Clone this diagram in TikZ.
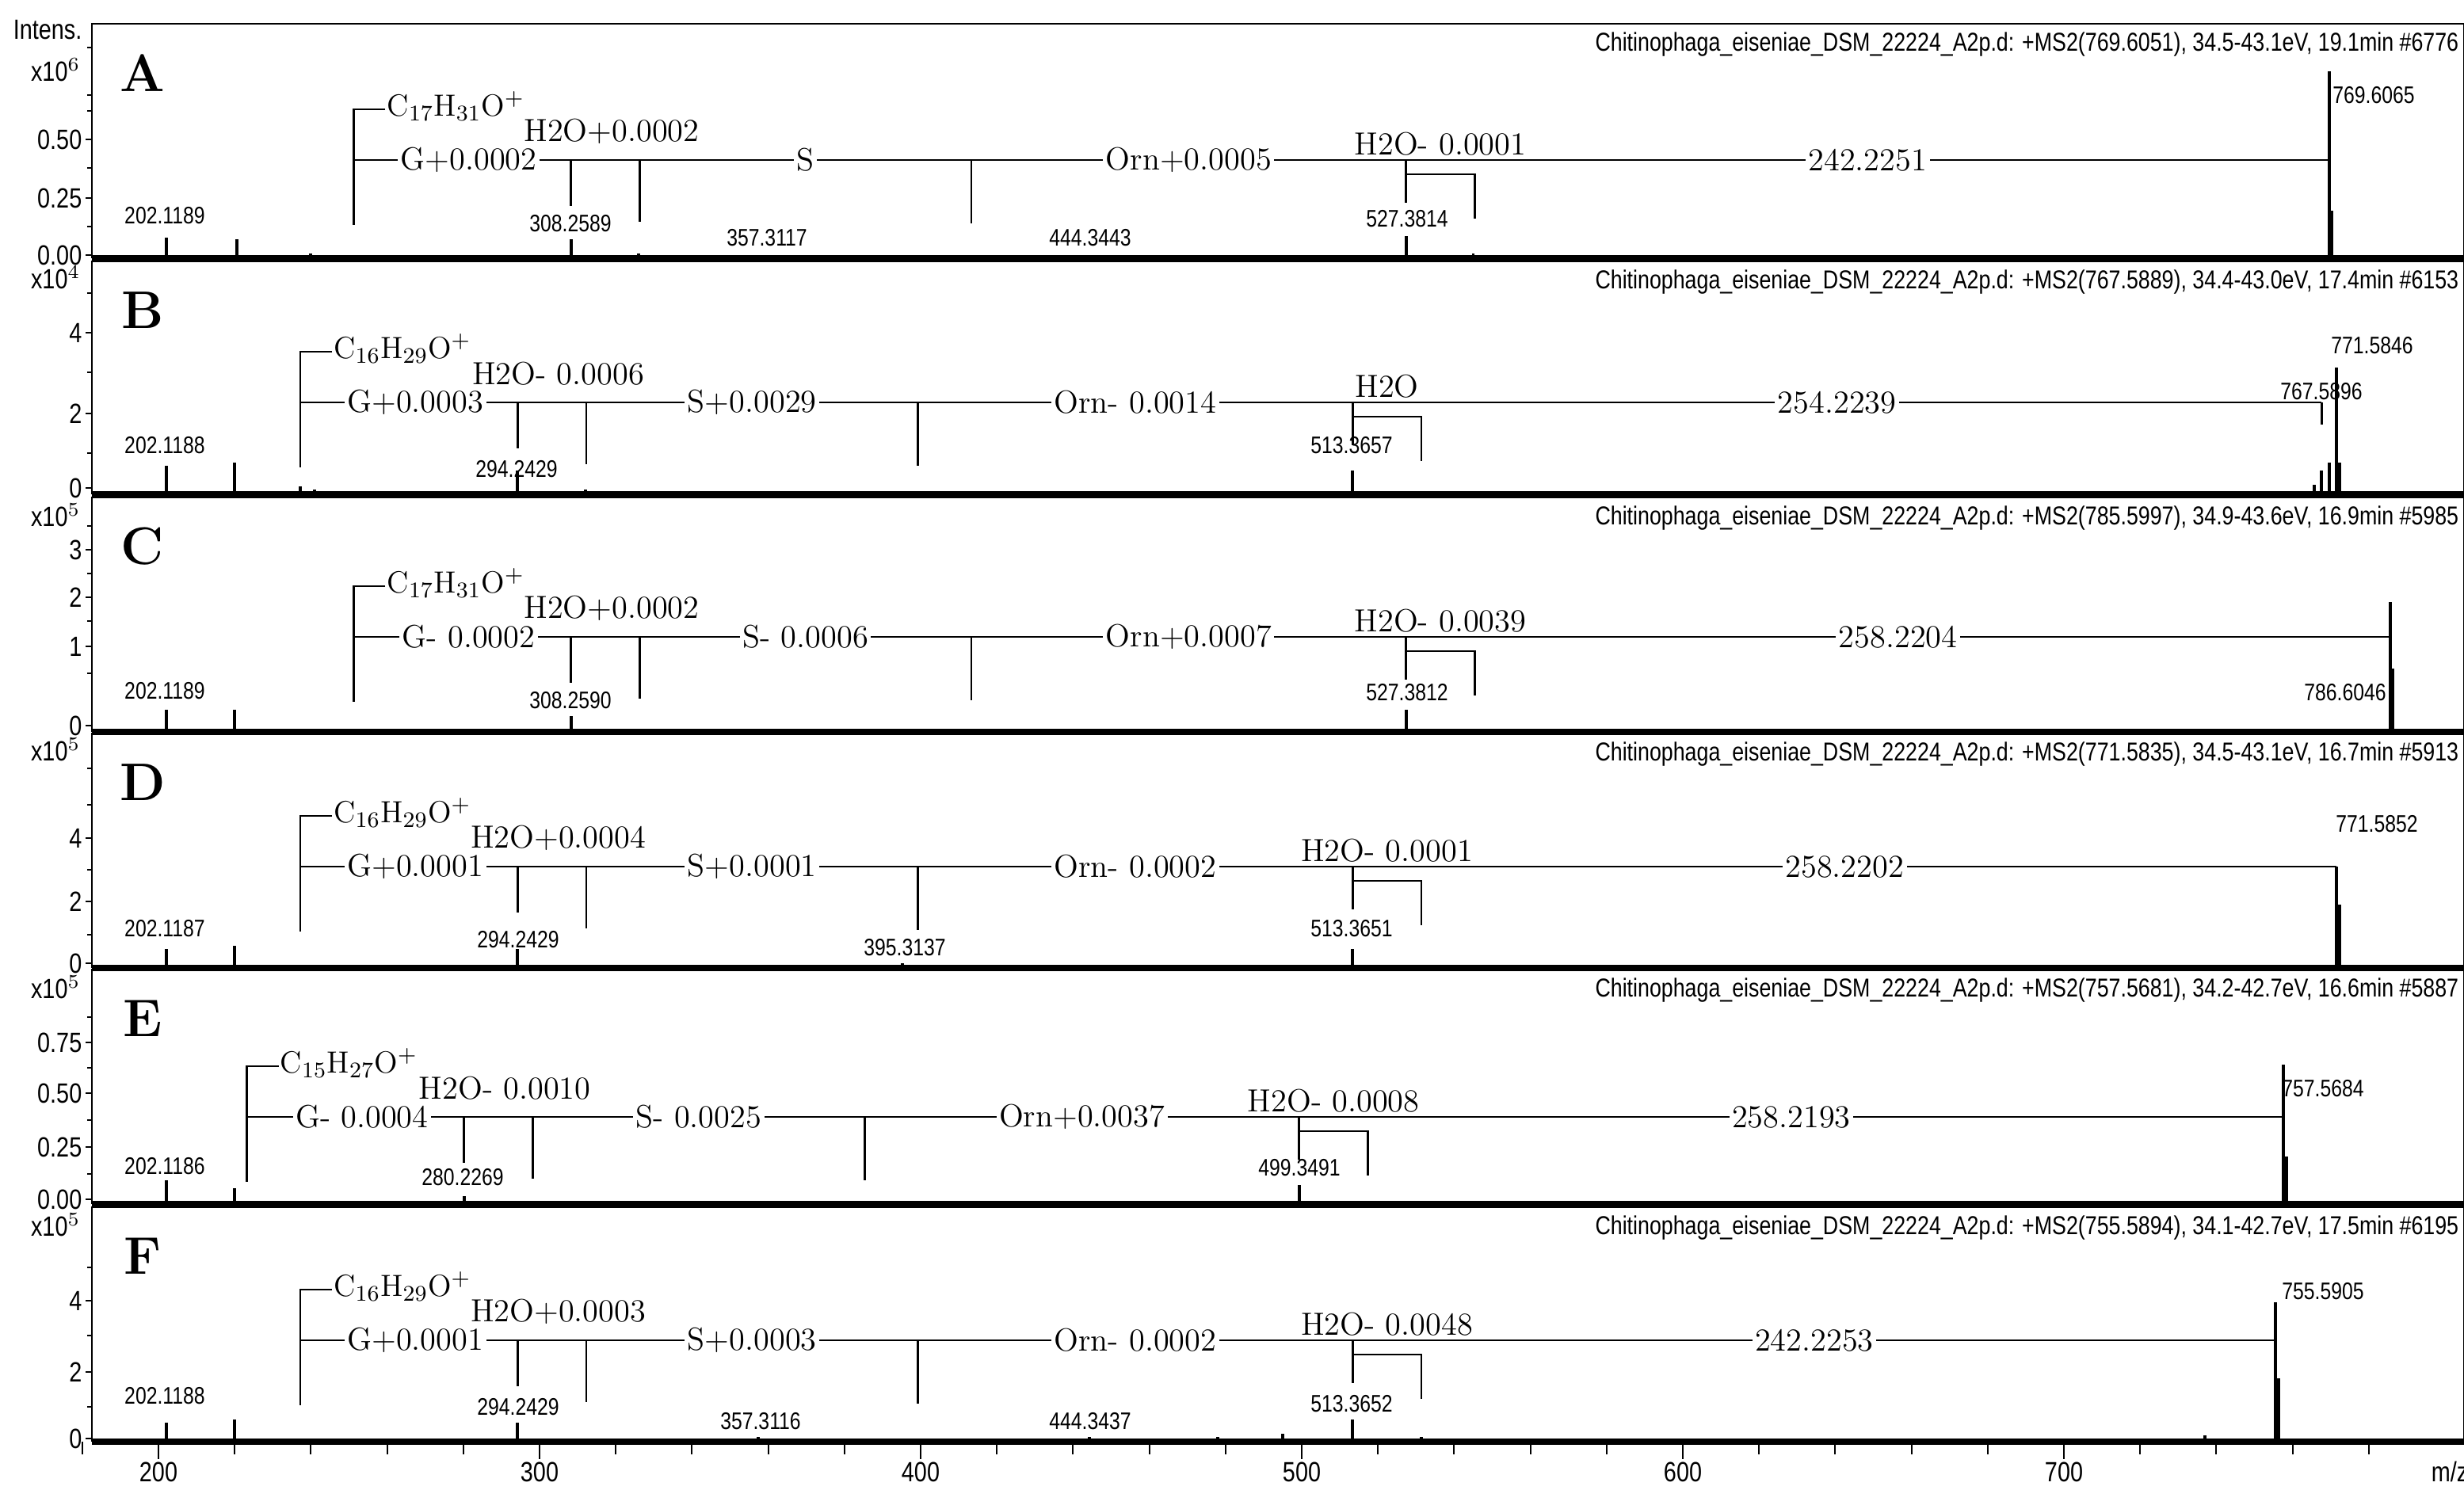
\documentclass[tikz,border=0pt]{standalone}
\usepackage{fontspec}
\newfontfamily\narrow[FakeStretch=0.82]{Liberation Sans}
\newcommand\X[1]{(100+2.405*(#1-200))}
\tikzset{
 ann/.style={line width=0.8pt},
 pk/.style={line width=1.1pt},
 big/.style={font=\fontsize{11.5}{12}\selectfont, inner sep=1pt},
 bigw/.style={big, fill=white},
 frm/.style={font=\fontsize{11}{12}\selectfont, inner sep=1pt},
 sm/.style={font=\narrow\fontsize{8.6}{9}\selectfont, inner sep=0pt},
 hdr/.style={font=\narrow\fontsize{9.3}{10}\selectfont, anchor=east, inner sep=0pt},
 ax/.style={font=\narrow\fontsize{10}{11}\selectfont, anchor=east, inner sep=0pt},
 letter/.style={font=\bfseries\fontsize{19}{20}\selectfont, inner sep=0pt}
}
% #1 L, #2 m0, #3 G, #4 H, #5 S, #6 O, #7 H2, #8 F
\newcommand\chain[8]{%
 \draw[ann] ({\X{#2}+20},#1-32) -- ({\X{#2}},#1-32) -- ({\X{#2}},#1+41);
 \draw[ann] ({\X{#2}},#1) -- ({\X{#8}},#1);
 \draw[ann] ({\X{#3}},#1) -- ({\X{#3}},#1+29);
 \draw[ann] ({\X{#4}},#1) -- ({\X{#4}},#1+39);
 \draw[ann] ({\X{#5}},#1) -- ({\X{#5}},#1+40);
 \draw[ann] ({\X{#6}},#1) -- ({\X{#6}},#1+27);
 \draw[ann] ({\X{#6}},#1+9) -- ({\X{#7}},#1+9) -- ({\X{#7}},#1+37);
 \node[frm,anchor=west] (f) at ({\X{#2}+19},#1-34) {\lf};
 \node[bigw] (g) at ({(\X{#2}+\X{#3})/2+4},#1) {\lg};
 \node[big] (h) at ({(\X{#3}+\X{#4})/2+4},#1-18) {\lh};
 \node[bigw] (s) at ({(\X{#4}+\X{#5})/2},#1) {\ls};
 \node[bigw] (o) at ({(\X{#5}+\X{#6})/2},#1) {\lo};
 \node[big] (h2) at ({(\X{#6}+\X{#7})/2},#1-10) {\lhh};
 \node[bigw] (fin) at ({(\X{#6}+\X{#8})/2},#1) {\lfin};
}
% #1 top, #2 baseline, #3 letter, #4 header
\newcommand\frm[4]{%
 \draw[line width=0.8pt] (58,#2) -- (58,#1) -- (1555,#1) -- (1555,#2);
 \draw[line width=2.2pt] (58,#2) -- (1555,#2);
 \node[letter] (L#3) at (90,#1+31) {#3};
 \node[hdr] (H#3) at (1552,#1+13) {#4};
}
\begin{document}
\begin{tikzpicture}[x=0.02cm,y=-0.02cm]
\useasboundingbox (0,0) rectangle (1555,940.5);
\fill[white] (0,0) rectangle (1555,940.5);
\def\hd{Chitinophaga\_eiseniae\_DSM\_22224\_A2p.d: +MS2}
% frames
\frm{15}{163}{A}{\hd(769.6051), 34.5-43.1eV, 19.1min \#6776}
\frm{165}{312}{B}{\hd(767.5889), 34.4-43.0eV, 17.4min \#6153}
\frm{314}{462}{C}{\hd(785.5997), 34.9-43.6eV, 16.9min \#5985}
\frm{463}{611}{D}{\hd(771.5835), 34.5-43.1eV, 16.7min \#5913}
\frm{612}{760}{E}{\hd(757.5681), 34.2-42.7eV, 16.6min \#5887}
\frm{762}{910}{F}{\hd(755.5894), 34.1-42.7eV, 17.5min \#6195}
% y axes
\node[ax] (int) at (52,19) {Intens.};
\foreach \n/\y/\e in {a/44/6,b/175/4,c/325/5,d/473/5,e/623/5,f/773/5}
  \node[ax] (ex\n) at (51,\y) {x10$^{\e}$};
\foreach \t/\y in {0.50/88,0.25/125,0.00/161, 4/210,2/261,0/308, 3/347,2/377,1/408,0/458, 4/529,2/569,0/608, 0.75/658,0.50/690,0.25/724,0.00/757, 4/821,2/866,0/908}
  {\node[ax] at (52,\y) {\t}; \draw[line width=0.6pt] (54,\y) -- (58,\y);}
\foreach \y in {30,60,70,106,143, 185,235,286, 332,362,392,425, 485,508,549,590, 642,674,707,741, 800,843,888}
  \draw[line width=0.5pt] (55,\y) -- (58,\y);
% x axis
\foreach \m in {180,200,...,780} \draw[line width=0.6pt] ({\X{\m}},910) -- ({\X{\m}},918);
\foreach \m in {200,300,...,700} {\draw[line width=0.7pt] ({\X{\m}},910) -- ({\X{\m}},921); \node[sm,font=\narrow\fontsize{10}{11}\selectfont] at ({\X{\m}},929) {\m};}
\node[sm,font=\narrow\fontsize{10}{11}\selectfont] (mz) at (1546,929) {m/z};
% peaks
\foreach \b/\list in {163/{202.12/13,220.5/12,240/3,308.26/12,326/3,357.3/2,444.3/2,527.38/14,545/3,769.6/118,770.3/30},
 312/{202.12/18,220/20,237.2/5,241/3,294.24/15,312/3,513.37/15,765.6/6,767.59/15,769.6/20,771.58/80,772.4/20},
 462/{202.12/14,220/14,308.26/10,527.38/14,785.6/82,786.3/40},
 611/{202.12/12,220/14,294.24/12,395.3/3,513.37/12,771.58/64,772.4/40},
 760/{202.12/15,220/10,280.23/5,499.35/12,757.57/88,758.4/30},
 910/{202.12/12,220/14,294.24/12,357.3/3,444.3/3,478/3,495/5,513.37/14,531.4/3,737/4,755.59/88,756.4/40}}
 \foreach \m/\h in \list \draw[pk] ({\X{\m}},\b) -- ({\X{\m}},\b-\h);
% panel A
\def\lf{C$_{17}$H$_{31}$O$^+$}\def\lg{G+0.0002}\def\lh{H2O+0.0002}\def\ls{S}\def\lo{Orn+0.0005}\def\lhh{H2O- 0.0001}\def\lfin{242.2251}
\chain{101}{251.2369}{308.2589}{326.27}{413.30}{527.3814}{545.39}{769.6065}
% panel B
\def\lf{C$_{16}$H$_{29}$O$^+$}\def\lg{G+0.0003}\def\lh{H2O- 0.0006}\def\ls{S+0.0029}\def\lo{Orn- 0.0014}\def\lhh{H2O}\def\lfin{254.2239}
\chain{254}{237.2213}{294.2429}{312.25}{399.29}{513.3657}{531.38}{767.5896}
\draw[ann] ({\X{767.5896}},254) -- ({\X{767.5896}},268);
% panel C
\def\lf{C$_{17}$H$_{31}$O$^+$}\def\lg{G- 0.0002}\def\lh{H2O+0.0002}\def\ls{S- 0.0006}\def\lo{Orn+0.0007}\def\lhh{H2O- 0.0039}\def\lfin{258.2204}
\chain{402}{251.2369}{308.2590}{326.27}{413.30}{527.3812}{545.39}{785.6}
% panel D
\def\lf{C$_{16}$H$_{29}$O$^+$}\def\lg{G+0.0001}\def\lh{H2O+0.0004}\def\ls{S+0.0001}\def\lo{Orn- 0.0002}\def\lhh{H2O- 0.0001}\def\lfin{258.2202}
\chain{547}{237.2213}{294.2429}{312.25}{399.29}{513.3651}{531.38}{771.5852}
% panel E
\def\lf{C$_{15}$H$_{27}$O$^+$}\def\lg{G- 0.0004}\def\lh{H2O- 0.0010}\def\ls{S- 0.0025}\def\lo{Orn+0.0037}\def\lhh{H2O- 0.0008}\def\lfin{258.2193}
\chain{705}{223.2056}{280.2269}{298.24}{385.27}{499.3491}{517.36}{757.5684}
% panel F
\def\lf{C$_{16}$H$_{29}$O$^+$}\def\lg{G+0.0001}\def\lh{H2O+0.0003}\def\ls{S+0.0003}\def\lo{Orn- 0.0002}\def\lhh{H2O- 0.0048}\def\lfin{242.2253}
\chain{846}{237.2213}{294.2429}{312.25}{399.29}{513.3652}{531.38}{755.5905}
% peak labels
\foreach \t/\x/\y in {202.1189/104/136,308.2589/360/141,357.3117/484/150,444.3443/688/150,527.3814/888/138,769.6065/1498/60,
 202.1188/104/281,294.2429/326/296,513.3657/853/281,767.5896/1465/247,771.5846/1497/218,
 202.1189/104/436,308.2590/360/442,527.3812/888/437,786.6046/1480/437,
 202.1187/104/586,294.2429/327/593,395.3137/571/598,513.3651/853/586,771.5852/1500/520,
 202.1186/104/736,280.2269/292/743,499.3491/820/737,757.5684/1466/687,
 202.1188/104/881,294.2429/327/888,357.3116/480/897,444.3437/688/897,513.3652/853/886,755.5905/1466/815}
 \node[sm] at (\x,\y) {\t};
\end{tikzpicture}
\end{document}
